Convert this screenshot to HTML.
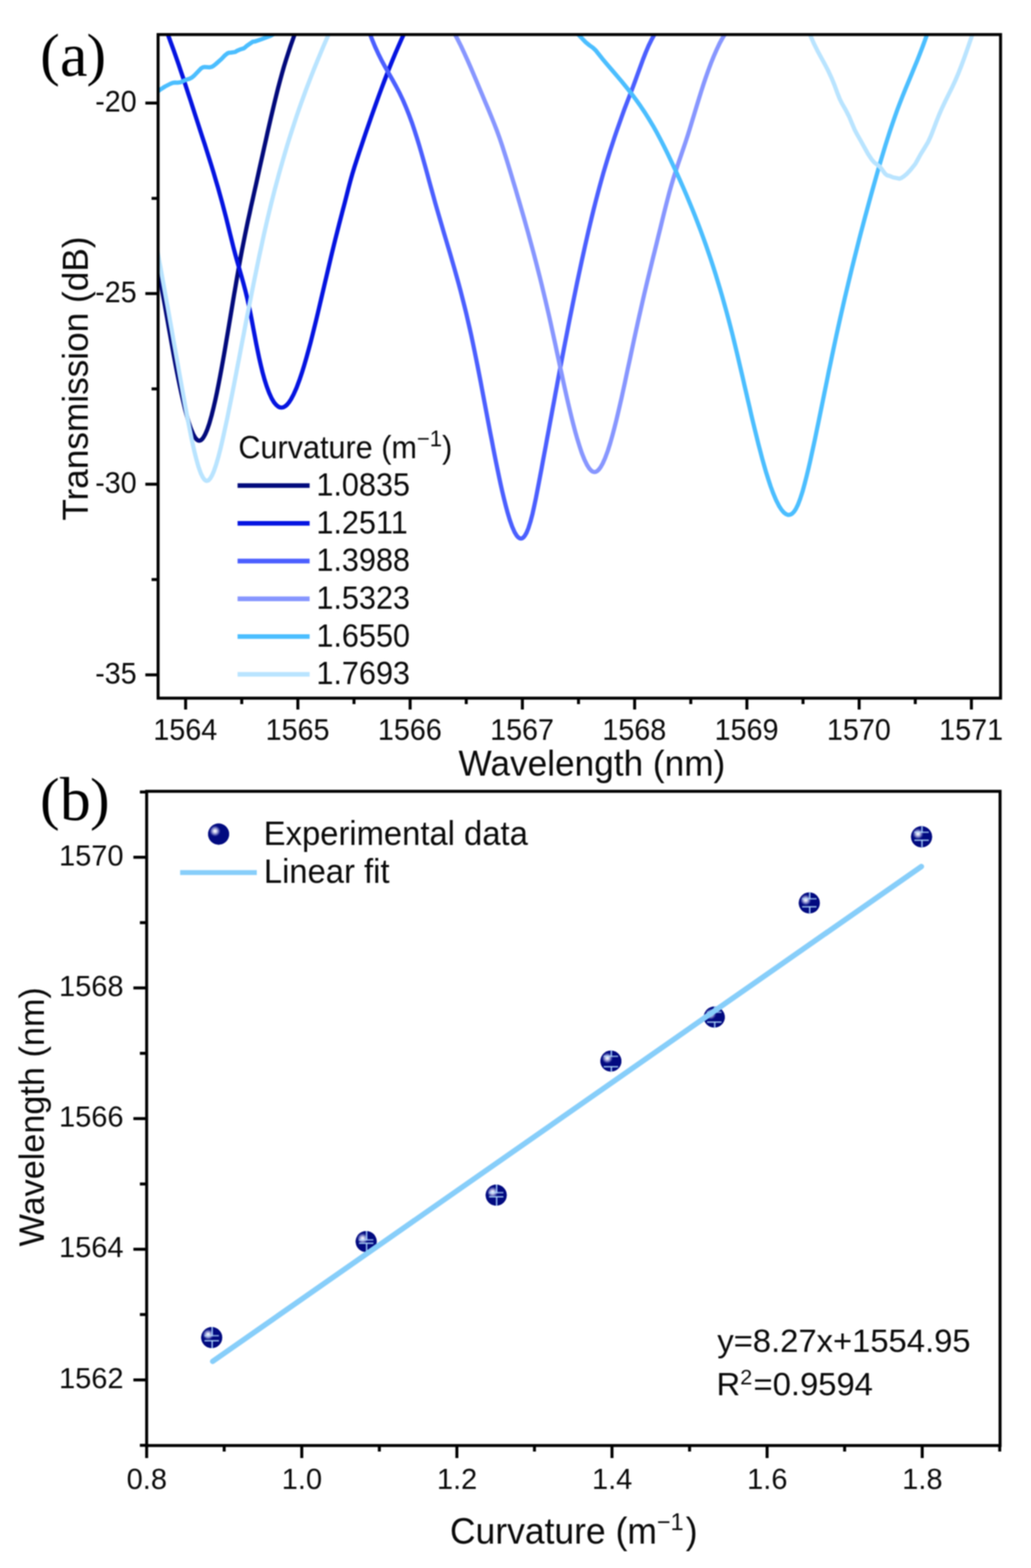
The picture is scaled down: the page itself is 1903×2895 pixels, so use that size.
<!DOCTYPE html>
<html lang="en">
<head>
<meta charset="utf-8">
<title>Transmission spectra and wavelength shift versus curvature</title>
<style>
html,body{margin:0;padding:0;background:#fff;}
body{width:1903px;height:2895px;overflow:hidden;}
svg{display:block;}
text{font-family:'Liberation Sans', Arial, Helvetica, sans-serif;fill:#0a0a0a;}
.panel{font-family:'Liberation Serif', 'Times New Roman', serif;fill:#000;}
.axis{stroke:#000;fill:none;}
.curve{fill:none;stroke-width:7.8;stroke-linejoin:round;stroke-linecap:butt;}
</style>
</head>
<body>
<svg width="1903" height="2895" viewBox="0 0 1903 2895">
<defs>
<clipPath id="clipA"><rect x="291.8" y="63.8" width="1555.0" height="1225.2"/></clipPath>
<radialGradient id="ball" gradientUnits="userSpaceOnUse" cx="-6.6" cy="-5.6" r="10.5" fx="-6.6" fy="-5.6">
<stop offset="0" stop-color="#ffffff"/><stop offset="0.22" stop-color="#dfe1f4"/><stop offset="0.55" stop-color="#7f84c8"/><stop offset="0.85" stop-color="#1c2390"/><stop offset="1" stop-color="#020a80"/>
</radialGradient>
<filter id="soft" x="0" y="0" width="1903" height="2895" filterUnits="userSpaceOnUse" color-interpolation-filters="sRGB"><feGaussianBlur stdDeviation="0.8"/></filter>
</defs>
<rect width="1903" height="2895" fill="#fff"/>
<g filter="url(#soft)">
<rect width="1903" height="2895" fill="#fff"/>
<g id="panel-a">
<g clip-path="url(#clipA)">
<path class="curve" stroke="#020a7c" d="M280.0 437.7L283.0 451.7L285.9 465.7L288.7 479.6L291.4 493.6L294.0 507.5L296.6 521.4L299.1 535.2L301.6 549.1L304.1 562.9L306.5 576.7L309.0 590.5L311.4 604.3L313.9 618.0L316.3 631.7L318.8 645.4L321.3 659.1L323.9 672.7L326.5 686.3L329.2 699.8L332.0 713.3L334.9 726.7L337.9 740.0L341.0 753.2L344.4 766.2L348.1 778.9L352.3 791.2L356.8 802.0L360.5 808.4L363.5 811.8L366.0 813.3L368.3 813.6L370.5 812.9L372.9 811.0L375.5 807.7L378.6 802.2L382.2 793.9L386.4 781.7L390.5 767.2L394.1 752.9L397.4 738.7L400.4 724.6L403.2 710.5L405.9 696.5L408.5 682.5L411.0 668.6L413.5 654.6L415.9 640.7L418.2 626.8L420.6 612.9L422.9 599.1L425.2 585.3L427.5 571.5L429.8 557.7L432.1 543.9L434.5 530.2L436.8 516.5L439.2 502.8L441.6 489.1L444.1 475.5L446.6 462.0L449.3 448.5L452.0 435.0L454.8 421.4L457.6 407.9L460.6 394.3L463.5 380.8L466.6 367.1L469.6 353.5L472.7 339.8L475.7 326.1L478.7 312.4L481.7 298.8L484.8 285.1L487.8 271.5L490.9 257.9L493.9 244.2L497.0 230.7L500.1 217.1L503.3 203.6L506.5 190.1L509.8 176.6L513.1 163.3L516.6 150.0L520.2 136.7L523.9 123.6L527.9 110.6L532.1 97.6L536.4 84.5L541.0 71.5L545.6 58.4L550.4 45.2L555.0 31.9L556.0 29.1"/>
<path class="curve" stroke="#0514e1" d="M300.0 39.2L305.4 52.4L310.6 65.7L315.5 79.1L320.4 92.4L325.1 105.8L329.7 119.1L334.2 132.5L338.7 145.8L343.1 159.2L347.4 172.6L351.8 185.9L356.1 199.2L360.4 212.6L364.7 225.9L369.0 239.2L373.3 252.5L377.7 265.8L381.9 279.2L386.2 292.7L390.4 306.2L394.5 319.7L398.5 333.3L402.5 346.9L406.3 360.5L410.1 374.2L413.7 387.9L417.3 401.7L420.7 415.5L424.0 429.1L427.4 442.7L430.7 456.1L434.2 469.4L437.8 482.5L441.6 495.8L445.5 509.3L449.3 523.0L453.0 537.0L456.4 551.1L459.6 565.4L462.5 579.6L465.2 593.7L467.8 607.6L470.4 621.3L473.0 634.9L475.7 648.3L478.5 661.6L481.5 674.7L484.7 687.7L488.2 700.5L492.2 713.1L496.7 725.2L501.4 735.5L505.7 742.8L509.7 747.6L513.3 750.6L516.6 752.1L519.7 752.5L522.8 752.0L525.9 750.4L529.4 747.6L533.1 743.3L537.3 736.9L542.0 728.0L547.4 715.9L552.6 701.9L557.3 688.1L561.6 674.2L565.6 660.4L569.4 646.6L573.1 632.9L576.6 619.1L580.0 605.4L583.4 591.6L586.7 577.9L589.9 564.2L593.1 550.5L596.3 536.9L599.5 523.2L602.7 509.6L605.9 496.0L609.1 482.4L612.3 468.9L615.6 455.4L618.9 441.9L622.3 428.5L625.7 415.0L629.2 401.5L632.7 388.0L636.3 374.4L639.8 360.8L643.2 347.2L646.7 333.9L650.4 320.9L654.3 308.0L658.5 295.0L662.8 281.8L667.3 268.6L671.7 255.3L676.2 242.1L680.7 228.9L685.3 215.8L689.9 202.7L694.6 189.6L699.3 176.5L704.1 163.5L709.0 150.5L714.0 137.5L719.0 124.7L724.2 111.8L729.5 99.0L735.0 86.3L740.5 73.7L746.3 61.1L752.2 48.7L755.0 42.9"/>
<path class="curve" stroke="#4b5fff" d="M674.0 36.0L678.1 48.8L682.5 61.5L687.2 74.1L692.4 86.5L698.0 98.7L704.0 110.8L710.5 122.8L717.3 134.8L724.2 147.0L731.1 159.5L737.8 172.3L744.0 185.4L749.7 198.8L755.1 212.3L760.1 225.8L764.7 239.5L769.1 253.2L773.3 266.9L777.3 280.5L781.2 294.2L785.0 307.8L788.7 321.3L792.4 334.9L796.1 348.4L799.8 361.8L803.5 375.2L807.3 388.5L811.2 401.9L815.1 415.2L819.0 428.6L823.0 442.0L827.0 455.5L831.0 468.9L834.9 482.5L838.8 496.0L842.6 509.6L846.4 523.3L850.1 537.0L853.6 550.7L857.1 564.5L860.5 578.3L863.7 592.2L866.9 606.0L870.0 619.9L872.9 633.8L875.8 647.7L878.6 661.6L881.4 675.4L884.1 689.3L886.8 703.1L889.4 716.9L892.0 730.7L894.6 744.5L897.2 758.2L899.8 772.0L902.4 785.7L905.0 799.4L907.7 813.1L910.3 826.8L913.0 840.4L915.7 854.0L918.5 867.6L921.3 881.1L924.2 894.6L927.2 908.0L930.4 921.3L933.7 934.5L937.2 947.4L941.0 960.1L945.3 972.3L949.8 982.5L953.6 988.8L956.8 992.3L959.5 994.0L961.9 994.3L964.1 993.7L966.5 991.9L969.0 988.7L971.9 983.5L975.2 975.4L979.0 963.4L982.9 948.7L986.1 934.2L989.1 920.0L991.8 906.0L994.5 892.1L997.1 878.3L999.7 864.5L1002.2 850.7L1004.8 836.9L1007.4 823.1L1009.9 809.3L1012.5 795.6L1015.0 781.8L1017.6 768.0L1020.1 754.3L1022.7 740.5L1025.2 726.8L1027.8 713.0L1030.3 699.3L1032.9 685.6L1035.5 671.9L1038.1 658.2L1040.7 644.5L1043.4 630.8L1046.1 617.1L1048.7 603.4L1051.4 589.7L1054.2 576.0L1056.9 562.4L1059.7 548.7L1062.5 535.1L1065.3 521.4L1068.2 507.8L1071.1 494.2L1074.0 480.6L1077.0 467.1L1080.0 453.5L1083.1 440.0L1086.2 426.4L1089.4 412.9L1092.6 399.5L1095.9 386.0L1099.3 372.6L1102.8 359.2L1106.3 345.9L1110.0 332.5L1113.7 319.3L1117.6 306.1L1121.6 292.9L1125.7 279.7L1130.0 266.6L1134.3 253.4L1138.8 240.3L1143.4 227.2L1148.0 214.2L1152.7 201.2L1157.6 188.3L1162.6 175.4L1167.7 162.1L1172.6 148.8L1177.4 135.5L1182.2 122.4L1186.9 109.5L1191.9 96.8L1197.1 84.5L1203.0 72.6L1209.5 60.7L1216.3 48.4L1220.0 41.3"/>
<path class="curve" stroke="#8796ff" d="M830.0 46.7L837.6 59.3L844.4 72.1L850.9 85.0L856.9 97.9L862.8 110.9L868.5 123.9L874.0 136.8L879.5 149.8L884.9 162.7L890.3 175.6L895.7 188.5L901.2 201.4L906.6 214.4L911.9 227.6L917.1 241.0L922.0 254.5L926.6 268.1L931.0 281.7L935.3 295.2L939.4 308.7L943.5 322.2L947.5 335.7L951.6 349.1L955.5 362.6L959.5 376.1L963.4 389.6L967.3 403.2L971.1 416.7L974.9 430.3L978.6 443.9L982.3 457.5L985.9 471.1L989.5 484.8L993.0 498.5L996.5 512.1L999.9 525.9L1003.2 539.6L1006.5 553.3L1009.7 567.1L1012.9 580.8L1016.0 594.6L1019.0 608.4L1022.0 622.2L1025.0 635.9L1027.9 649.6L1030.9 663.3L1033.8 677.0L1036.8 690.6L1039.7 704.3L1042.7 717.8L1045.7 731.4L1048.8 744.9L1052.0 758.3L1055.2 771.7L1058.6 785.0L1062.1 798.2L1065.8 811.2L1069.8 824.1L1074.0 836.7L1078.8 848.8L1083.8 858.9L1087.9 865.3L1091.5 869.1L1094.5 871.0L1097.2 871.5L1099.7 871.1L1102.4 869.6L1105.3 866.9L1108.7 862.4L1112.5 855.7L1116.8 846.0L1121.8 832.5L1126.3 818.3L1130.3 804.3L1134.0 790.3L1137.5 776.4L1140.8 762.5L1144.0 748.7L1147.2 734.8L1150.2 721.0L1153.2 707.3L1156.1 693.5L1159.0 679.8L1162.0 666.1L1164.9 652.4L1167.8 638.8L1170.7 625.2L1173.7 611.5L1176.7 597.9L1179.7 584.3L1182.8 570.8L1185.9 557.2L1189.0 543.6L1192.2 530.1L1195.4 516.6L1198.7 503.1L1202.0 489.6L1205.3 476.0L1208.7 462.5L1212.1 448.8L1215.4 435.2L1218.8 421.5L1222.1 407.9L1225.4 394.4L1228.8 380.9L1232.2 367.6L1235.7 354.3L1239.4 341.2L1243.3 328.2L1247.5 315.2L1251.8 302.1L1256.3 289.0L1260.8 275.7L1265.4 262.3L1269.8 248.7L1274.0 235.2L1278.1 221.7L1282.2 208.2L1286.2 194.8L1290.3 181.5L1294.4 168.4L1298.6 155.3L1303.0 142.2L1307.6 129.3L1312.3 116.6L1317.4 104.0L1322.8 91.6L1328.5 79.5L1334.9 68.0L1341.3 58.3L1347.0 51.4L1352.0 46.6"/>
<path class="curve" stroke="#4bbeff" d="M280.0 172.0L282.2 173.0L284.5 173.0L287.0 172.1L290.1 170.0L294.5 166.2L304.8 159.6L314.6 154.6L319.2 152.8L322.7 152.5L327.9 152.7L333.2 151.9L336.3 150.4L343.5 147.2L349.6 145.5L354.0 143.2L358.1 139.9L362.9 134.9L371.0 126.3L374.4 124.3L377.2 123.7L380.7 123.8L387.0 124.3L390.6 123.5L393.7 121.8L398.0 118.5L408.8 108.9L415.6 101.8L420.4 98.2L423.2 97.3L426.4 97.2L434.1 96.0L437.4 93.9L443.4 91.2L449.2 89.6L452.2 87.7L456.1 84.2L466.3 77.2L470.1 76.7L481.4 72.9L493.4 68.4L499.0 66.4L504.3 63.3L511.3 58.4L520.0 52.0"/>
<path class="curve" stroke="#4bbeff" d="M1050.0 50.0L1053.9 51.9L1058.5 55.1L1064.0 60.1L1071.6 68.1L1081.1 78.0L1088.0 83.6L1094.4 88.1L1099.4 92.8L1103.3 97.7L1111.8 108.4L1120.7 119.0L1129.8 129.6L1138.9 140.3L1148.0 151.0L1156.9 162.0L1165.7 173.1L1174.2 184.5L1182.4 196.1L1190.4 208.0L1198.0 220.1L1205.4 232.4L1212.4 244.9L1219.1 257.5L1225.5 270.1L1231.8 282.8L1237.9 295.6L1243.9 308.3L1249.9 321.2L1255.7 334.1L1261.4 347.0L1267.0 360.0L1272.4 373.0L1277.8 386.1L1283.1 399.3L1288.2 412.5L1293.2 425.7L1298.1 439.0L1302.9 452.4L1307.5 465.8L1312.1 479.2L1316.5 492.7L1320.8 506.2L1324.9 519.8L1329.0 533.4L1333.0 547.0L1336.8 560.6L1340.6 574.3L1344.3 588.0L1347.9 601.7L1351.4 615.4L1354.8 629.2L1358.1 642.9L1361.4 656.6L1364.6 670.3L1367.8 684.0L1371.0 697.7L1374.1 711.4L1377.3 725.0L1380.4 738.6L1383.6 752.2L1386.7 765.8L1389.9 779.4L1393.2 792.9L1396.5 806.3L1399.8 819.8L1403.3 833.1L1406.8 846.4L1410.5 859.6L1414.3 872.8L1418.4 885.7L1422.6 898.5L1427.3 911.1L1432.4 923.2L1437.9 934.1L1442.7 941.5L1447.0 946.4L1450.7 949.2L1453.9 950.5L1456.9 950.6L1459.7 949.8L1462.6 947.9L1465.7 944.6L1469.0 939.6L1472.6 932.3L1476.7 921.6L1481.4 907.2L1485.3 892.9L1488.9 878.9L1492.3 864.9L1495.5 851.0L1498.5 837.1L1501.5 823.3L1504.5 809.5L1507.3 795.7L1510.2 781.9L1513.0 768.1L1515.8 754.4L1518.6 740.7L1521.4 726.9L1524.2 713.2L1527.0 699.5L1529.7 685.8L1532.6 672.2L1535.4 658.6L1538.3 644.9L1541.2 631.3L1544.1 617.7L1547.1 604.2L1550.1 590.6L1553.2 577.0L1556.3 563.4L1559.4 549.9L1562.6 536.3L1565.8 522.8L1569.1 509.3L1572.3 495.8L1575.7 482.2L1579.1 468.7L1582.5 455.3L1585.9 441.8L1589.4 428.3L1593.0 414.8L1596.5 401.4L1600.2 387.9L1603.8 374.5L1607.5 361.0L1611.2 347.6L1615.0 334.2L1618.8 320.8L1622.6 307.5L1626.5 294.1L1630.5 280.8L1634.5 267.6L1638.7 254.4L1642.9 241.3L1647.3 228.2L1651.8 215.2L1656.4 202.3L1661.3 189.4L1666.3 176.6L1671.5 163.7L1676.8 150.9L1682.2 138.0L1687.5 125.0L1692.9 111.9L1698.1 98.8L1703.2 85.5L1708.1 72.1L1712.9 58.6L1717.4 45.0L1718.0 43.3"/>
<path class="curve" stroke="#b9e4ff" d="M283.0 424.8L285.7 438.7L288.4 452.5L291.0 466.3L293.6 480.2L296.2 494.0L298.7 507.8L301.2 521.6L303.7 535.5L306.2 549.3L308.7 563.1L311.2 576.9L313.6 590.7L316.1 604.5L318.5 618.3L320.9 632.1L323.4 645.9L325.8 659.7L328.3 673.4L330.7 687.2L333.2 701.0L335.6 714.7L338.1 728.4L340.6 742.2L343.1 755.9L345.6 769.5L348.2 783.1L350.9 796.6L353.6 810.1L356.5 823.4L359.5 836.5L362.8 849.4L366.4 862.0L370.6 873.8L374.3 881.3L377.3 885.5L379.8 887.4L381.9 887.8L383.9 887.3L386.1 885.6L388.6 882.5L391.6 877.3L395.1 869.1L399.2 856.9L403.4 842.4L407.0 828.2L410.3 814.2L413.4 800.2L416.4 786.3L419.4 772.5L422.2 758.6L425.0 744.8L427.8 731.0L430.5 717.2L433.2 703.4L435.9 689.6L438.5 675.8L441.2 662.0L443.8 648.2L446.4 634.5L449.1 620.8L451.7 607.0L454.3 593.3L457.0 579.6L459.7 565.9L462.4 552.2L465.1 538.6L467.8 524.9L470.6 511.2L473.4 497.6L476.2 484.0L479.0 470.4L482.0 456.8L484.9 443.3L487.9 429.7L491.0 416.2L494.1 402.7L497.3 389.3L500.6 375.8L504.0 362.4L507.4 349.0L511.0 335.7L514.6 322.3L518.3 309.0L522.1 295.7L526.0 282.4L529.9 269.1L534.0 255.9L538.2 242.7L542.5 229.6L546.8 216.4L551.3 203.3L555.9 190.3L560.6 177.3L565.3 164.3L570.3 151.3L575.3 138.4L580.4 125.5L585.6 112.7L590.9 99.9L596.3 87.1L601.8 74.3L607.4 61.6L613.1 48.9L615.0 44.6"/>
<path class="curve" stroke="#b9e4ff" d="M1488.0 44.3L1492.4 56.8L1497.3 69.2L1502.7 81.3L1508.7 93.3L1515.2 105.4L1521.9 117.7L1528.6 130.5L1534.8 143.8L1540.4 157.5L1545.4 171.2L1550.2 183.2L1554.6 191.9L1560.7 202.5L1567.6 215.9L1572.3 227.2L1577.5 239.5L1581.9 247.9L1588.6 259.6L1595.5 272.1L1602.1 284.0L1609.1 294.7L1613.8 300.0L1617.6 302.9L1624.4 308.2L1627.4 312.1L1632.9 319.8L1636.3 323.0L1638.8 324.1L1642.0 324.8L1648.5 327.5L1660.4 329.8L1664.2 328.3L1668.4 325.5L1673.5 321.2L1679.9 314.5L1689.3 302.9L1692.9 296.5L1699.4 284.6L1705.6 274.6L1713.2 261.9L1718.2 251.0L1723.6 237.2L1728.5 224.1L1733.5 211.6L1738.9 199.3L1744.7 187.0L1750.8 174.6L1757.1 161.9L1763.2 148.9L1768.9 135.5L1774.2 122.0L1779.2 108.6L1783.9 95.2L1788.6 81.8L1793.1 68.4L1797.5 55.1L1800.0 47.8"/>
</g>
<rect class="axis" x="291.8" y="63.8" width="1555.0" height="1225.2" stroke-width="5.5"/>
<path class="axis" stroke-width="5.5" d="M291.8,190.2H268.3M291.8,542.1H268.3M291.8,894.1H268.3M291.8,1246.0H268.3M291.8,366.2H279.8M291.8,718.1H279.8M291.8,1070.1H279.8M342.6,1289.0V1310.0M549.8,1289.0V1310.0M757.0,1289.0V1310.0M964.2,1289.0V1310.0M1171.4,1289.0V1310.0M1378.6,1289.0V1310.0M1585.8,1289.0V1310.0M1793.0,1289.0V1310.0M446.2,1289.0V1300.0M653.4,1289.0V1300.0M860.6,1289.0V1300.0M1067.8,1289.0V1300.0M1275.0,1289.0V1300.0M1482.2,1289.0V1300.0M1689.4,1289.0V1300.0"/>
<text transform="translate(252.3,206.0) scale(1,1.05)" font-size="53" text-anchor="end">-20</text>
<text transform="translate(252.3,557.9) scale(1,1.05)" font-size="53" text-anchor="end">-25</text>
<text transform="translate(252.3,909.9) scale(1,1.05)" font-size="53" text-anchor="end">-30</text>
<text transform="translate(252.3,1261.8) scale(1,1.05)" font-size="53" text-anchor="end">-35</text>
<text transform="translate(342.0,1366.4) scale(1,1.05)" font-size="53" text-anchor="middle">1564</text>
<text transform="translate(549.2,1366.4) scale(1,1.05)" font-size="53" text-anchor="middle">1565</text>
<text transform="translate(756.4,1366.4) scale(1,1.05)" font-size="53" text-anchor="middle">1566</text>
<text transform="translate(963.6,1366.4) scale(1,1.05)" font-size="53" text-anchor="middle">1567</text>
<text transform="translate(1170.8,1366.4) scale(1,1.05)" font-size="53" text-anchor="middle">1568</text>
<text transform="translate(1378.0,1366.4) scale(1,1.05)" font-size="53" text-anchor="middle">1569</text>
<text transform="translate(1585.2,1366.4) scale(1,1.05)" font-size="53" text-anchor="middle">1570</text>
<text transform="translate(1792.4,1366.4) scale(1,1.05)" font-size="53" text-anchor="middle">1571</text>
<text transform="translate(1092.5,1432.0) scale(1,1.035)" font-size="65" text-anchor="middle">Wavelength (nm)</text>
<text transform="translate(161.5,699.0) rotate(-90) scale(1,1.035)" font-size="65" text-anchor="middle">Transmission (dB)</text>
<text transform="translate(440.0,846.0) scale(1,1.035)" font-size="56.5">Curvature (m<tspan font-size="40.7" dy="-21.2">−1</tspan><tspan dy="21.2" dx="0.0">)</tspan></text>
<line x1="438.5" y1="896.5" x2="571.5" y2="896.5" stroke="#020a7c" stroke-width="8.6"/>
<text transform="translate(584.0,914.8) scale(1,1.035)" font-size="56.5">1.0835</text>
<line x1="438.5" y1="966.2" x2="571.5" y2="966.2" stroke="#0514e1" stroke-width="8.6"/>
<text transform="translate(584.0,984.5) scale(1,1.035)" font-size="56.5">1.2511</text>
<line x1="438.5" y1="1035.9" x2="571.5" y2="1035.9" stroke="#4b5fff" stroke-width="8.6"/>
<text transform="translate(584.0,1054.2) scale(1,1.035)" font-size="56.5">1.3988</text>
<line x1="438.5" y1="1105.6" x2="571.5" y2="1105.6" stroke="#8796ff" stroke-width="8.6"/>
<text transform="translate(584.0,1123.9) scale(1,1.035)" font-size="56.5">1.5323</text>
<line x1="438.5" y1="1175.3" x2="571.5" y2="1175.3" stroke="#4bbeff" stroke-width="8.6"/>
<text transform="translate(584.0,1193.6) scale(1,1.035)" font-size="56.5">1.6550</text>
<line x1="438.5" y1="1245.0" x2="571.5" y2="1245.0" stroke="#b9e4ff" stroke-width="8.6"/>
<text transform="translate(584.0,1263.3) scale(1,1.035)" font-size="56.5">1.7693</text>
<text class="panel" y="139.5" font-size="114"><tspan x="74.3" dy="-2.8" font-size="108">(</tspan><tspan x="110.7" dy="2.8">a</tspan><tspan x="159.8" dy="-2.8" font-size="108">)</tspan></text>
</g>
<g id="panel-b">
<rect class="axis" x="270.7" y="1461.0" width="1575.2" height="1207.9" stroke-width="5.5"/>
<path class="axis" stroke-width="5.5" d="M270.7,2547.8H246.2M270.7,2306.5H246.2M270.7,2065.3H246.2M270.7,1824.0H246.2M270.7,1582.8H246.2M270.7,2668.4H258.2M270.7,2427.1H258.2M270.7,2185.9H258.2M270.7,1944.7H258.2M270.7,1703.4H258.2M270.7,1462.2H258.2M270.7,2668.9V2691.9M557.0,2668.9V2691.9M843.3,2668.9V2691.9M1129.6,2668.9V2691.9M1415.9,2668.9V2691.9M1702.2,2668.9V2691.9M413.8,2668.9V2679.9M700.2,2668.9V2679.9M986.5,2668.9V2679.9M1272.8,2668.9V2679.9M1559.0,2668.9V2679.9M1845.3,2668.9V2679.9"/>
<text transform="translate(228.0,2562.5)" font-size="53.5" text-anchor="end">1562</text>
<text transform="translate(228.0,2321.2)" font-size="53.5" text-anchor="end">1564</text>
<text transform="translate(228.0,2080.0)" font-size="53.5" text-anchor="end">1566</text>
<text transform="translate(228.0,1838.7)" font-size="53.5" text-anchor="end">1568</text>
<text transform="translate(228.0,1597.5)" font-size="53.5" text-anchor="end">1570</text>
<text transform="translate(271.0,2748.6)" font-size="53.5" text-anchor="middle">0.8</text>
<text transform="translate(557.3,2748.6)" font-size="53.5" text-anchor="middle">1.0</text>
<text transform="translate(843.6,2748.6)" font-size="53.5" text-anchor="middle">1.2</text>
<text transform="translate(1129.9,2748.6)" font-size="53.5" text-anchor="middle">1.4</text>
<text transform="translate(1416.2,2748.6)" font-size="53.5" text-anchor="middle">1.6</text>
<text transform="translate(1702.5,2748.6)" font-size="53.5" text-anchor="middle">1.8</text>
<text transform="translate(830.5,2850.0) scale(1,1.035)" font-size="65.5">Curvature (m<tspan font-size="43.2" dy="-24.6">−1</tspan><tspan dy="24.6" dx="4.0">)</tspan></text>
<text transform="translate(81.0,2062.0) rotate(-90) scale(1,1.035)" font-size="63.2" text-anchor="middle">Wavelength (nm)</text>
<g transform="translate(390.8,2469.6)"><circle r="19.4" fill="#020a80"/><circle r="19.4" fill="url(#ball)"/><path d="M0.8,-19.6V-3.5M0.8,5.8V19.6" stroke="#a9d2ff" stroke-width="2.8" stroke-opacity="0.85" fill="none"/><path d="M-13.3,-3.5H13.3" stroke="#b5dcff" stroke-width="2.7" stroke-opacity="0.72" fill="none"/><path d="M-13.3,5.8H13.3" stroke="#b5e0ff" stroke-width="2.7" stroke-opacity="0.8" fill="none"/></g>
<g transform="translate(675.9,2292.3)"><circle r="19.4" fill="#020a80"/><circle r="19.4" fill="url(#ball)"/><path d="M0.8,-19.6V-3.1M0.8,3.1V19.6" stroke="#a9d2ff" stroke-width="2.8" stroke-opacity="0.85" fill="none"/><path d="M-13.3,-3.1H13.3" stroke="#b5dcff" stroke-width="2.7" stroke-opacity="0.72" fill="none"/><path d="M-13.3,3.1H13.3" stroke="#b5e0ff" stroke-width="2.7" stroke-opacity="0.8" fill="none"/></g>
<g transform="translate(915.9,2206.6)"><circle r="19.4" fill="#020a80"/><circle r="19.4" fill="url(#ball)"/><path d="M0.8,-19.6V-4.6M0.8,3.1V19.6" stroke="#a9d2ff" stroke-width="2.8" stroke-opacity="0.85" fill="none"/><path d="M-13.3,-4.6H13.3" stroke="#b5dcff" stroke-width="2.7" stroke-opacity="0.72" fill="none"/><path d="M-13.3,3.1H13.3" stroke="#b5e0ff" stroke-width="2.7" stroke-opacity="0.8" fill="none"/></g>
<g transform="translate(1127.6,1959.1)"><circle r="19.4" fill="#020a80"/><circle r="19.4" fill="url(#ball)"/><path d="M0.8,-19.6V-8.8M0.8,10.4V19.6" stroke="#a9d2ff" stroke-width="2.8" stroke-opacity="0.85" fill="none"/><path d="M-13.3,-8.8H13.3" stroke="#b5dcff" stroke-width="2.7" stroke-opacity="0.72" fill="none"/><path d="M-13.3,10.4H13.3" stroke="#b5e0ff" stroke-width="2.7" stroke-opacity="0.8" fill="none"/></g>
<g transform="translate(1318.4,1877.9)"><circle r="19.4" fill="#020a80"/><circle r="19.4" fill="url(#ball)"/><path d="M0.8,-19.6V-9.0M0.8,9.2V19.6" stroke="#a9d2ff" stroke-width="2.8" stroke-opacity="0.85" fill="none"/><path d="M-13.3,-9.0H13.3" stroke="#b5dcff" stroke-width="2.7" stroke-opacity="0.72" fill="none"/><path d="M-13.3,9.2H13.3" stroke="#b5e0ff" stroke-width="2.7" stroke-opacity="0.8" fill="none"/></g>
<g transform="translate(1493.8,1667.2)"><circle r="19.4" fill="#020a80"/><circle r="19.4" fill="url(#ball)"/><path d="M0.8,-19.6V-7.8M0.8,7.0V19.6" stroke="#a9d2ff" stroke-width="2.8" stroke-opacity="0.85" fill="none"/><path d="M-13.3,-7.8H13.3" stroke="#b5dcff" stroke-width="2.7" stroke-opacity="0.72" fill="none"/><path d="M-13.3,7.0H13.3" stroke="#b5e0ff" stroke-width="2.7" stroke-opacity="0.8" fill="none"/></g>
<g transform="translate(1701.0,1545.0)"><circle r="19.4" fill="#020a80"/><circle r="19.4" fill="url(#ball)"/><path d="M0.8,-19.6V-8.4M0.8,6.3V19.6" stroke="#a9d2ff" stroke-width="2.8" stroke-opacity="0.85" fill="none"/><path d="M-13.3,-8.4H13.3" stroke="#b5dcff" stroke-width="2.7" stroke-opacity="0.72" fill="none"/><path d="M-13.3,6.3H13.3" stroke="#b5e0ff" stroke-width="2.7" stroke-opacity="0.8" fill="none"/></g>
<line x1="392.5" y1="2513.5" x2="1700.7" y2="1599.8" stroke="#87cefa" stroke-width="10" stroke-linecap="round"/>
<g transform="translate(403.5,1540.0)"><circle r="19.4" fill="#020a80"/><circle r="19.4" fill="url(#ball)"/></g>
<line x1="332.5" y1="1611" x2="474" y2="1611" stroke="#87cefa" stroke-width="9.2"/>
<text transform="translate(486.8,1559.8) scale(1,1.035)" font-size="60.5">Experimental data</text>
<text transform="translate(487.0,1630.2) scale(1,1.035)" font-size="60.5">Linear fit</text>
<text transform="translate(1324.0,2495.8) scale(1,0.985)" font-size="60.5">y=8.27x+1554.95</text>
<text transform="translate(1322.5,2575.8) scale(1,0.985)" font-size="60.5">R<tspan font-size="39.9" dy="-20.6">2</tspan><tspan dy="20.6" dx="2.5">=0.9594</tspan></text>
<text class="panel" y="1513.5" font-size="114"><tspan x="74.1" dy="-2.8" font-size="108">(</tspan><tspan x="110.5" dy="2.8">b</tspan><tspan x="166.3" dy="-2.8" font-size="108">)</tspan></text>
</g>
</g>
</svg>
</body>
</html>
